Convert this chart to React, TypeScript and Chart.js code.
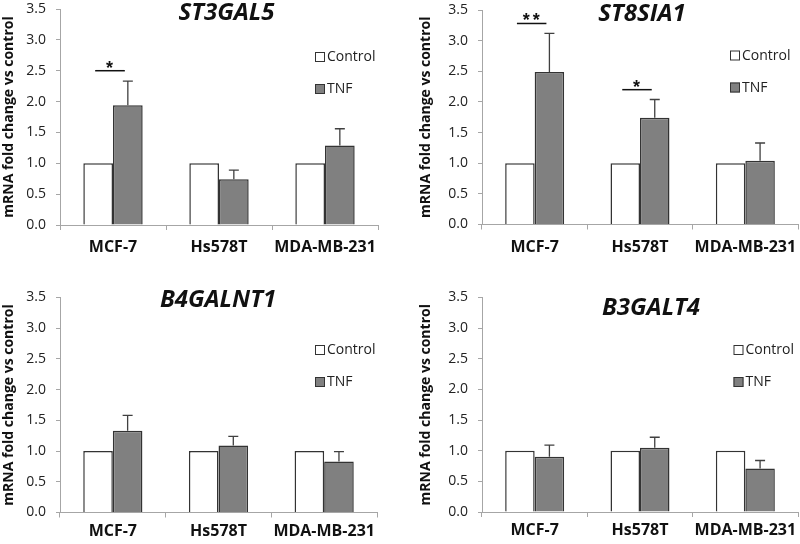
import React, { useEffect, useRef } from "react";
import { Chart, registerables } from "chart.js";

Chart.register(...registerables);

// ---------------- data ----------------
const categories = ["MCF-7", "Hs578T", "MDA-MB-231"];
const seriesNames = ["Control", "TNF"];
const yMin = 0;
const yMax = 3.5;
const yStep = 0.5;

const controlValues = [1, 1, 1];

const st3gal5Tnf = [1.94, 0.74, 1.29];
const st3gal5Err = [0.39, 0.15, 0.27];
const st3gal5Sig = [{ index: 0, value: 2.5, label: "*" }];

const st8sia1Tnf = [2.49, 1.74, 1.04];
const st8sia1Err = [0.63, 0.3, 0.29];
const st8sia1Sig = [
  { index: 0, value: 3.28, label: "**" },
  { index: 1, value: 2.2, label: "*" },
];

const b4galnt1Tnf = [1.33, 1.09, 0.83];
const b4galnt1Err = [0.25, 0.15, 0.16];
const b4galnt1Sig: { index: number; value: number; label: string }[] = [];

const b3galt4Tnf = [0.9, 1.05, 0.71];
const b3galt4Err = [0.19, 0.17, 0.13];
const b3galt4Sig: { index: number; value: number; label: string }[] = [];

// ---------------- styling / layout ----------------
const FONT = "'Open Sans', 'DejaVu Sans', sans-serif";
const CONTROL_FILL = "#ffffff";
const TNF_FILL = "#808080";
const BAR_BORDER = "#333333";
const AXIS_COLOR = "#a6a6a6";

type Sig = { index: number; value: number; label: string };
type Panel = {
  gene: string;
  tnf: number[];
  err: number[];
  sig: Sig[];
  padLeft: number;
  left: number;
  right: number;
  top: number;
  bottom: number;
  titleX: number;
  titleY: number;
  legendX: number;
  legendY: number;
  xPad: number;
  pos: [number, number];
};

const panels: Panel[] = [
  { gene: "ST3GAL5", tnf: st3gal5Tnf, err: st3gal5Err, sig: st3gal5Sig, padLeft: 0.5, left: 60, right: 378, top: 9, bottom: 225, titleX: 226.5, titleY: 20, legendX: 315, legendY: 52, xPad: 8, pos: [0, 0] },
  { gene: "ST8SIA1", tnf: st8sia1Tnf, err: st8sia1Err, sig: st8sia1Sig, padLeft: 18, left: 82, right: 398, top: 10, bottom: 224.5, titleX: 242, titleY: 20.5, legendX: 330, legendY: 50.5, xPad: 8, pos: [400, 0] },
  { gene: "B4GALNT1", tnf: b4galnt1Tnf, err: b4galnt1Err, sig: b4galnt1Sig, padLeft: 0.5, left: 60, right: 377, top: 25.5, bottom: 240.5, titleX: 218, titleY: 35, legendX: 315, legendY: 73, xPad: 4, pos: [0, 272] },
  { gene: "B3GALT4", tnf: b3galt4Tnf, err: b3galt4Err, sig: b3galt4Sig, padLeft: 18, left: 82, right: 398, top: 25.5, bottom: 240, titleX: 251, titleY: 43, legendX: 333.5, legendY: 73, xPad: 4, pos: [400, 272] },
];

const W = 400;
const H = 272;

function makeChart(canvas: HTMLCanvasElement, p: Panel) {
  const overlay = {
    id: "overlay" + p.gene,
    afterDatasetsDraw(chart: any) {
      const ctx = chart.ctx as CanvasRenderingContext2D;
      const ys = chart.scales.y;
      const metaC = chart.getDatasetMeta(0);
      const metaT = chart.getDatasetMeta(1);
      // error bars (upper only)
      ctx.save();
      ctx.strokeStyle = "#404040";
      ctx.lineWidth = 1.3;
      metaT.data.forEach((bar: any, i: number) => {
        const x = bar.x;
        const yTop = ys.getPixelForValue(p.tnf[i] + p.err[i]);
        ctx.beginPath();
        ctx.moveTo(x, bar.y);
        ctx.lineTo(x, yTop);
        ctx.moveTo(x - 5, yTop);
        ctx.lineTo(x + 5, yTop);
        ctx.stroke();
      });
      // significance markers
      ctx.strokeStyle = "#111111";
      ctx.lineWidth = 1.5;
      ctx.fillStyle = "#111111";
      p.sig.forEach((s) => {
        const x1 = metaC.data[s.index].x;
        const x2 = metaT.data[s.index].x;
        const y = ys.getPixelForValue(s.value);
        ctx.beginPath();
        ctx.moveTo(x1 - 3, y);
        ctx.lineTo(x2 - 3, y);
        ctx.stroke();
        ctx.font = "bold 18px 'Liberation Sans', Arial, sans-serif";
        (ctx as any).letterSpacing = "3px";
        ctx.textAlign = "center";
        ctx.textBaseline = "alphabetic";
        ctx.fillText(s.label, (x1 + x2) / 2 - 2, y + 3);
        (ctx as any).letterSpacing = "0px";
      });
      ctx.restore();
    },
    afterDraw(chart: any) {
      const ctx = chart.ctx as CanvasRenderingContext2D;
      ctx.save();
      // title
      ctx.font = "italic bold 24px " + FONT;
      ctx.fillStyle = "#111111";
      ctx.textAlign = "center";
      ctx.textBaseline = "alphabetic";
      ctx.fillText(p.gene, p.titleX, p.titleY);
      // legend
      const items = [
        { label: seriesNames[0], fill: CONTROL_FILL },
        { label: seriesNames[1], fill: TNF_FILL },
      ];
      ctx.font = "14px " + FONT;
      ctx.textAlign = "left";
      ctx.textBaseline = "middle";
      items.forEach((it, k) => {
        const y = p.legendY + k * 32;
        ctx.fillStyle = it.fill;
        ctx.fillRect(p.legendX, y, 10, 10);
        ctx.strokeStyle = BAR_BORDER;
        ctx.lineWidth = 1;
        ctx.strokeRect(p.legendX + 0.5, y + 0.5, 9, 9);
        ctx.fillStyle = "#222222";
        ctx.fillText(it.label, p.legendX + 12, y + 5.5);
      });
      ctx.restore();
    },
  };

  return new Chart(canvas, {
    type: "bar",
    data: {
      labels: categories,
      datasets: [
        {
          label: seriesNames[0],
          data: controlValues,
          backgroundColor: CONTROL_FILL,
          borderColor: BAR_BORDER,
          borderWidth: 1.5,
          categoryPercentage: 0.56,
          barPercentage: 1.0,
        },
        {
          label: seriesNames[1],
          data: p.tnf,
          backgroundColor: TNF_FILL,
          borderColor: BAR_BORDER,
          borderWidth: 1.5,
          categoryPercentage: 0.56,
          barPercentage: 1.0,
        },
      ],
    },
    options: {
      responsive: false,
      animation: false,
      devicePixelRatio: 1,
      layout: { padding: { left: p.padLeft, top: p.top, right: W - p.right, bottom: 0 } },
      plugins: {
        legend: { display: false },
        title: { display: false },
        tooltip: { enabled: false },
      },
      scales: {
        x: {
          type: "category",
          offset: true,
          grid: {
            offset: true,
            drawOnChartArea: false,
            drawTicks: true,
            tickLength: 5,
            color: AXIS_COLOR,
          },
          border: { color: AXIS_COLOR, width: 1 },
          ticks: {
            color: "#111111",
            padding: p.xPad,
            font: { family: FONT, size: 16, weight: "bold" },
            maxRotation: 0,
            autoSkip: false,
          },
          afterFit(s: any) {
            s.height = H - p.bottom;
            s.paddingLeft = 0;
            s.paddingRight = 0;
          },
        },
        y: {
          min: yMin,
          max: yMax,
          grid: {
            drawOnChartArea: false,
            drawTicks: true,
            tickLength: 4,
            color: AXIS_COLOR,
          },
          border: { color: AXIS_COLOR, width: 1 },
          ticks: {
            stepSize: yStep,
            color: "#222222",
            padding: 10,
            font: { family: FONT, size: 14 },
            callback: (v: any) => Number(v).toFixed(1),
          },
          title: {
            display: true,
            text: "mRNA fold change vs control",
            color: "#111111",
            font: { family: FONT, size: 14, weight: "bold" },
            padding: { top: 0, bottom: 0 },
          },
          afterFit(s: any) {
            s.width = p.left - p.padLeft;
            s.paddingTop = 0;
            s.paddingBottom = 0;
          },
        },
      },
    } as any,
    plugins: [overlay],
  });
}

function PanelChart({ p }: { p: Panel }) {
  const ref = useRef<HTMLCanvasElement | null>(null);
  useEffect(() => {
    if (!ref.current) return;
    const c = makeChart(ref.current, p);
    return () => c.destroy();
  }, [p]);
  return (
    <canvas
      ref={ref}
      width={W}
      height={H}
      style={{ position: "absolute", left: p.pos[0], top: p.pos[1], width: W, height: H }}
    />
  );
}

export default function App() {
  return (
    <div style={{ position: "absolute", left: 0, top: 0, width: 800, height: 544, background: "#ffffff", overflow: "hidden" }}>
      {panels.map((p) => (
        <PanelChart key={p.gene} p={p} />
      ))}
    </div>
  );
}
